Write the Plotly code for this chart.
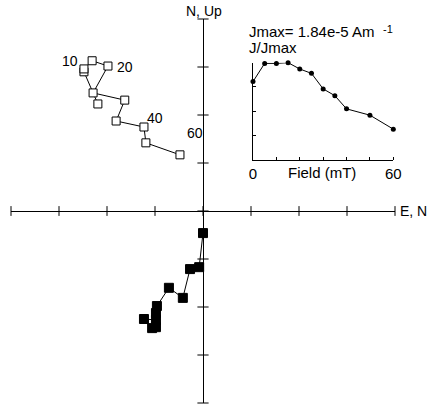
import plotly.graph_objects as go

# Demagnetisation steps (mT)
fields = [0, 5, 10, 15, 20, 25, 30, 35, 40, 50, 60]

# Open squares (N, Up projection)
open_x = [-2.19, -2.48, -2.48, -2.31, -1.98, -2.29, -1.63, -1.81, -1.23, -1.19, -0.48]
open_y = [2.23, 2.90, 2.96, 3.13, 3.02, 2.46, 2.31, 1.875, 1.75, 1.42, 1.17]

# Filled squares (E, N projection)
fill_x = [0.0, -0.08, -0.27, -0.42, -0.71, -0.96, -0.98, -0.98, -1.23, -1.06, -0.98]
fill_y = [-0.46, -1.17, -1.21, -1.81, -1.60, -1.98, -2.125, -2.27, -2.25, -2.44, -2.42]

# Inset: normalised intensity J/Jmax
j_norm = [0.805, 0.993, 0.993, 1.0, 0.935, 0.89, 0.73, 0.66, 0.524, 0.459, 0.315]

axis_ticks = [-4, -3, -2, -1, 0, 1, 2, 3, 4]
inset_yticks = [0.25, 0.5, 0.75, 1.0]
inset_xlabels = [0, 60]
inset_xminor = [10, 20, 30, 40, 50, 60]

step_labels = {2: "10", 4: "20", 8: "40", 10: "60"}
label_shift = {2: (-14, 8), 4: (17, -1), 8: (11, 9), 10: (15, 22)}

FONT = "Liberation Sans, Arial, Helvetica, sans-serif"

fig = go.Figure()

# axis tick marks crossing the zero lines
fig.add_trace(go.Scatter(
    x=axis_ticks, y=[0] * len(axis_ticks), mode="markers",
    marker=dict(symbol="line-ns", size=7, line=dict(width=1, color="black")),
    cliponaxis=False, hoverinfo="skip", showlegend=False))
fig.add_trace(go.Scatter(
    x=[0] * len(axis_ticks), y=axis_ticks, mode="markers",
    marker=dict(symbol="line-ew", size=8, line=dict(width=1, color="black")),
    cliponaxis=False, hoverinfo="skip", showlegend=False))

fig.add_trace(go.Scatter(
    x=open_x, y=open_y, mode="lines+markers",
    line=dict(color="black", width=1),
    marker=dict(symbol="square", size=8, color="white",
                line=dict(color="black", width=1)),
    showlegend=False))

fig.add_trace(go.Scatter(
    x=fill_x, y=fill_y, mode="lines+markers",
    line=dict(color="black", width=1),
    marker=dict(symbol="square", size=9, color="black",
                line=dict(color="black", width=1)),
    showlegend=False))

# inset
fig.add_trace(go.Scatter(
    x=fields, y=j_norm, mode="lines+markers", xaxis="x2", yaxis="y2",
    line=dict(color="black", width=1),
    marker=dict(symbol="circle", size=5, color="black"),
    cliponaxis=False, showlegend=False))

annotations = []
for i, txt in step_labels.items():
    dx, dy = label_shift[i]
    annotations.append(dict(x=open_x[i], y=open_y[i], xref="x", yref="y",
                            text=txt, showarrow=False, xshift=dx, yshift=dy,
                            font=dict(size=14, color="black", family=FONT)))

annotations += [
    dict(x=0.5026, y=1.022, xref="paper", yref="paper", text="N, Up",
         showarrow=False, xanchor="center", yanchor="middle",
         font=dict(size=14, color="black", family=FONT)),
    dict(x=1.0078, y=0.5, xref="paper", yref="paper", text="E, N",
         showarrow=False, xanchor="left", yanchor="middle",
         font=dict(size=14, color="black", family=FONT)),
    dict(x=0.6146, y=0.968, xref="paper", yref="paper",
         text="Jmax= 1.84e-5 Am",
         showarrow=False, xanchor="left", yanchor="middle",
         font=dict(size=15, color="black", family=FONT)),
    dict(x=0.9818, y=0.975, xref="paper", yref="paper",
         text="-1",
         showarrow=False, xanchor="center", yanchor="middle",
         font=dict(size=11, color="black", family=FONT)),
    dict(x=0.6146, y=0.9245, xref="paper", yref="paper", text="J/Jmax",
         showarrow=False, xanchor="left", yanchor="middle",
         font=dict(size=15, color="black", family=FONT)),
    dict(x=0.8099, y=0.599, xref="paper", yref="paper", text="Field (mT)",
         showarrow=False, xanchor="center", yanchor="middle",
         font=dict(size=15, color="black", family=FONT)),
]

fig.update_layout(
    width=429, height=406,
    margin=dict(l=11, r=34, t=19, b=3),
    paper_bgcolor="white", plot_bgcolor="rgba(0,0,0,0)",
    font=dict(family=FONT, color="black"),
    hovermode=False,
    xaxis=dict(range=[-4, 4], domain=[0, 1], showgrid=False, showticklabels=False,
               ticks="", showline=False, zeroline=True, zerolinecolor="black",
               zerolinewidth=1, fixedrange=True),
    yaxis=dict(range=[-4, 4], domain=[0, 1], showgrid=False, showticklabels=False,
               ticks="", showline=False, zeroline=True, zerolinecolor="black",
               zerolinewidth=1, fixedrange=True),
    xaxis2=dict(domain=[0.6302, 0.9956], range=[0, 60], anchor="y2",
                showgrid=False, zeroline=False, showline=True, linecolor="black",
                linewidth=1, ticks="", tickvals=inset_xlabels,
                tickfont=dict(size=15, color="black", family=FONT),
                minor=dict(tickvals=inset_xminor, ticks="inside", ticklen=3,
                           tickcolor="black", showgrid=False)),
    yaxis2=dict(domain=[0.6336, 0.8862], range=[0, 1], anchor="x2",
                showgrid=False, zeroline=False, showline=True, linecolor="black",
                linewidth=1, ticks="inside", ticklen=3, tickcolor="black",
                tickvals=inset_yticks, showticklabels=False),
    annotations=annotations,
)

# remove the browser's default 8px body margin so the figure fills the window
fig.write_html("out.html",
               config={"displayModeBar": False, "staticPlot": True},
               post_script="document.body.style.margin='0px';"
                           "document.body.style.overflow='hidden';")
